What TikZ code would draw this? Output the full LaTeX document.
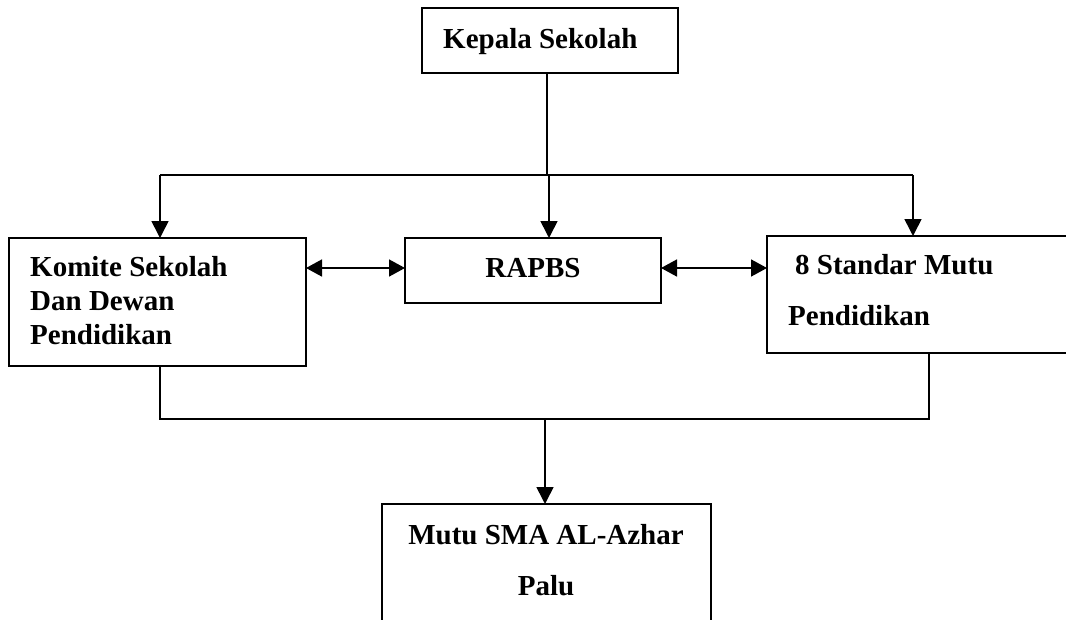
\documentclass[tikz,border=0pt]{standalone}
\usepackage{fontspec}
\newfontfamily\tnr{Liberation Serif}
\usetikzlibrary{arrows.meta}
\begin{document}
\begin{tikzpicture}[x=1pt,y=-1pt,
  box/.style={draw, line width=1.6pt, inner sep=0pt, outer sep=0pt, anchor=north west},
  lbl/.style={inner sep=0pt, font=\tnr\bfseries\fontsize{29}{34}\selectfont},
  conn/.style={line width=1.6pt},
  arr/.style={conn, -{Triangle[length=17pt,width=17pt]}},
  darr/.style={conn, {Triangle[length=16pt,width=17pt]}-{Triangle[length=16pt,width=17pt]}}]
\useasboundingbox (0,0) rectangle (1066,619);
\clip (0,0) rectangle (1066,619);
% boxes
\node[box, minimum width=256pt, minimum height=65pt] (kepala) at (422,8) {};
\node[box, minimum width=297pt, minimum height=128pt] (komite) at (9,238) {};
\node[box, minimum width=256pt, minimum height=65pt] (rapbs) at (405,238) {};
\node[box, minimum width=310pt, minimum height=117pt] (standar) at (767,236) {};
\node[box, minimum width=329pt, minimum height=130pt] (mutu) at (382,504) {};
% texts
\node[lbl, anchor=base west] (tkepala) at (443,48) {Kepala Sekolah};
\node[lbl, anchor=base west] (tkom1) at (30,276) {Komite Sekolah};
\node[lbl, anchor=base west] (tkom2) at (30,310) {Dan Dewan};
\node[lbl, anchor=base west] (tkom3) at (30,344) {Pendidikan};
\node[lbl, anchor=base] (trapbs) at (533,277) {RAPBS};
\node[lbl, anchor=base west] (tstd1) at (795,274) {8 Standar Mutu};
\node[lbl, anchor=base west] (tstd2) at (788,325) {Pendidikan};
\node[lbl, anchor=base] (tmutu1) at (546,544) {Mutu SMA AL-Azhar};
\node[lbl, anchor=base] (tmutu2) at (546,595) {Palu};
% connectors
\coordinate (top) at (547,175);
\coordinate (hl) at (160,175);
\coordinate (hr) at (913,175);
\coordinate (hm) at (549,175);
\draw[conn] (kepala.south -| top) -- (top);
\draw[conn] (hl) -- (hr);
\draw[arr] (hl) -- (hl |- komite.north);
\draw[arr] (hm) -- (hm |- rapbs.north);
\draw[arr] (hr) -- (hr |- standar.north);
\coordinate (dy) at (0,268);
\draw[darr] (komite.east |- dy) -- (rapbs.west |- dy);
\draw[darr] (rapbs.east |- dy) -- (standar.west |- dy);
\coordinate (bl) at (160,419);
\coordinate (br) at (929,419);
\coordinate (bm) at (545,419);
\draw[conn] (bl |- komite.south) -- (bl) -- (br) -- (br |- standar.south);
\draw[arr] (bm) -- (bm |- mutu.north);
\end{tikzpicture}
\end{document}
